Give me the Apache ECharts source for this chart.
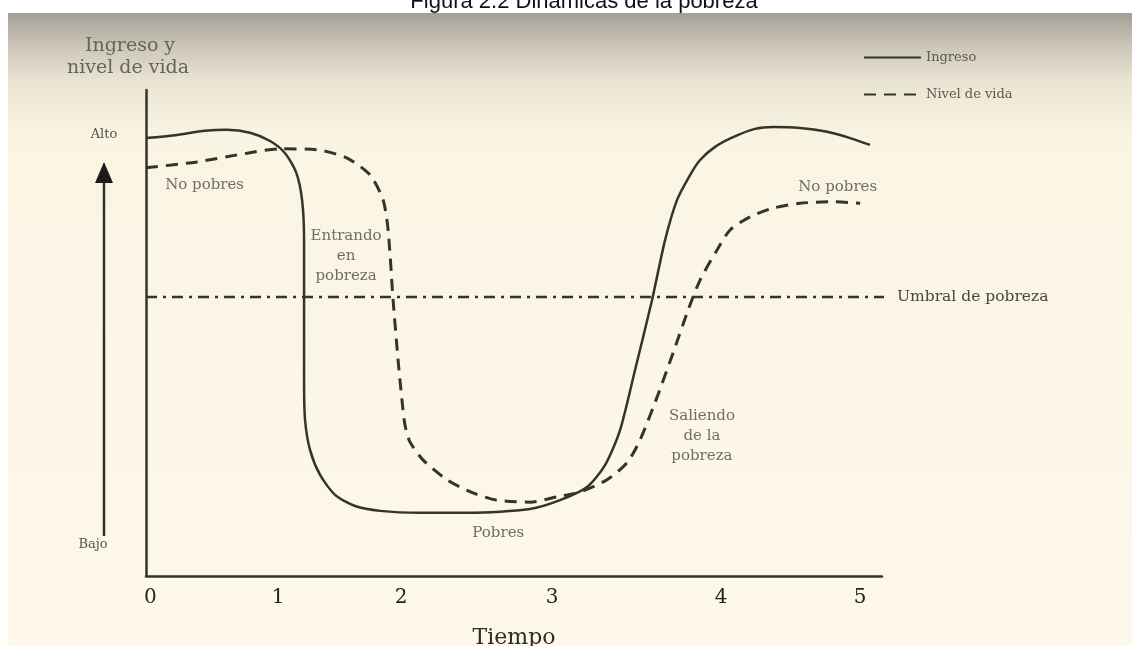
<!DOCTYPE html>
<html><head><meta charset="utf-8">
<script src="https://cdn.jsdelivr.net/npm/echarts@6/dist/echarts.min.js"></script>
<style>html,body{margin:0;padding:0;background:#fff}#c{width:1132px;height:646px}</style>
</head><body><div id="c"></div>
<script>
// Tick labels of the time axis and where they sit on the (scanned) axis
const tickLabels = ['0', '1', '2', '3', '4', '5'];
const tickPositions = [0.03, 0.924, 1.785, 2.841, 4.024, 4.997];

// Ingreso (solid)
const ingresoT = [0, 0.203, 0.413, 0.567, 0.728, 0.868, 0.973, 1.050, 1.092, 1.106, 1.106, 1.106, 1.113, 1.148, 1.218, 1.323, 1.463, 1.638, 1.917, 2.267, 2.687, 2.897, 3.086, 3.212, 3.317, 3.422, 3.541, 3.632, 3.716, 3.807, 3.877, 3.982, 4.108, 4.262, 4.388, 4.577, 4.766, 4.927, 5.066];
const ingresoV = [90.1, 90.7, 91.6, 91.8, 91.2, 89.5, 87.0, 83.1, 77.4, 69.1, 56.8, 40.3, 32.1, 25.9, 20.8, 16.7, 14.4, 13.4, 13.0, 13.0, 13.8, 15.6, 18.3, 22.8, 30.0, 42.4, 56.8, 69.1, 77.4, 82.5, 85.6, 88.3, 90.3, 92.0, 92.4, 92.2, 91.4, 90.1, 88.7];

// Nivel de vida (dashed)
const nivelT = [0, 0.357, 0.707, 0.938, 1.197, 1.407, 1.568, 1.659, 1.694, 1.729, 1.764, 1.791, 1.812, 1.847, 1.938, 2.106, 2.288, 2.456, 2.687, 2.876, 3.037, 3.226, 3.366, 3.457, 3.576, 3.688, 3.793, 3.877, 3.996, 4.087, 4.227, 4.388, 4.577, 4.808, 4.997];
const nivelV = [84.0, 85.2, 87.0, 87.9, 87.7, 86.0, 82.5, 77.4, 71.2, 56.8, 44.4, 36.2, 31.1, 27.6, 23.9, 19.8, 17.1, 15.6, 15.2, 16.3, 17.3, 19.8, 23.3, 28.0, 36.8, 45.9, 54.7, 60.9, 67.1, 71.2, 73.9, 75.7, 76.7, 77.0, 76.7];

// Umbral de pobreza
const umbralT = [0, 5.31];
const umbralV = [57.4, 57.4];

// Annotations
const annText = ['No pobres', 'Entrando\nen\npobreza', 'Pobres', 'Saliendo\nde la\npobreza', 'No pobres'];
const annT = [0.41, 1.40, 2.465, 3.89, 4.84];
const annV = [80.5, 65.8, 8.8, 28.8, 80.0];

const SERIF = 'DejaVu Serif';
const INK = '#37322c';
const TXT = '#57524a';

const zip = (a, b) => a.map((v, i) => [v, b[i]]);

const chart = echarts.init(document.getElementById('c'), null, { renderer: 'canvas' });
chart.setOption({
  animation: false,
  backgroundColor: '#ffffff',
  grid: { left: 146, right: 250, top: 90, bottom: 70, outerBoundsMode: 'none', containLabel: false },
  graphic: [
    { type: 'rect', z: -10, silent: true, shape: { x: 8, y: 13, width: 1124, height: 633 },
      style: { fill: new echarts.graphic.LinearGradient(0, 0, 0, 1, [
        { offset: 0, color: '#a39e94' }, { offset: 0.05, color: '#cbc5b8' },
        { offset: 0.11, color: '#ebe5d4' }, { offset: 0.2, color: '#faf4e3' }, { offset: 1, color: '#fdf8ea' }]) } },
    { type: 'text', style: { text: 'Figura 2.2 Dinámicas de la pobreza', x: 584, y: 2,
      align: 'center', verticalAlign: 'middle', font: '22px "Liberation Sans", Arial, sans-serif', fill: '#111' } },
    { type: 'text', style: { text: 'Ingreso y', x: 130, y: 46, align: 'center', verticalAlign: 'middle', font: '19px "DejaVu Serif"', fill: '#67625a' } },
    { type: 'text', style: { text: 'nivel de vida', x: 128, y: 68, align: 'center', verticalAlign: 'middle', font: '19px "DejaVu Serif"', fill: '#67625a' } },
    { type: 'text', style: { text: 'Alto', x: 104, y: 135, align: 'center', verticalAlign: 'middle', font: '13px "DejaVu Serif"', fill: TXT } },
    { type: 'text', style: { text: 'Bajo', x: 93, y: 545, align: 'center', verticalAlign: 'middle', font: '13px "DejaVu Serif"', fill: TXT } },
    { type: 'line', shape: { x1: 104, y1: 536, x2: 104, y2: 180 }, style: { stroke: INK, lineWidth: 2.5 } },
    { type: 'polygon', shape: { points: [[95, 183], [113, 183], [104, 162]] }, style: { fill: '#1e1a16' } }
  ],
  legend: {
    orient: 'vertical', left: 858, top: 46, itemWidth: 57, itemHeight: 14, itemGap: 24,
    data: ['Ingreso', 'Nivel de vida'],
    itemStyle: { opacity: 0 },
    textStyle: { fontFamily: SERIF, fontSize: 13, color: '#5e5951' }
  },
  xAxis: {
    type: 'value', min: 0, max: 5.15,
    axisLine: { show: true, lineStyle: { color: INK, width: 2.5 } },
    axisTick: { show: false }, splitLine: { show: false },
    axisLabel: {
      customValues: tickPositions,
      formatter: (v) => {
        let best = 0;
        tickPositions.forEach((p, i) => { if (Math.abs(p - v) < Math.abs(tickPositions[best] - v)) best = i; });
        return tickLabels[best];
      },
      fontFamily: SERIF, fontSize: 20, color: '#26221e', margin: 12
    },
    name: 'Tiempo', nameLocation: 'middle', nameGap: 51,
    nameTextStyle: { fontFamily: SERIF, fontSize: 22, color: '#2e2a25' }
  },
  yAxis: {
    type: 'value', min: 0, max: 100,
    axisLine: { show: true, lineStyle: { color: INK, width: 2.5 } },
    axisTick: { show: false }, axisLabel: { show: false }, splitLine: { show: false }
  },
  series: [
    { name: 'Umbral', type: 'line', data: zip(umbralT, umbralV), symbol: 'none', clip: false, silent: true,
      lineStyle: { color: INK, width: 2.5, type: [11, 6, 3, 6] },
      endLabel: { show: true, formatter: 'Umbral de pobreza', distance: 13, fontFamily: SERIF, fontSize: 15.5, color: '#4a453e' } },
    { name: 'Ingreso', type: 'line', data: zip(ingresoT, ingresoV), symbol: 'none', smooth: 0.25,
      lineStyle: { color: INK, width: 2.5 }, itemStyle: { color: INK } },
    { name: 'Nivel de vida', type: 'line', data: zip(nivelT, nivelV), symbol: 'none', smooth: 0.25,
      lineStyle: { color: INK, width: 3, type: [12, 8] }, itemStyle: { color: INK } },
    { name: 'Notas', type: 'scatter', symbolSize: 1, silent: true, itemStyle: { color: 'rgba(0,0,0,0)' },
      data: annT.map((t, i) => ({ value: [t, annV[i]], name: annText[i] })),
      label: { show: true, position: 'inside', formatter: (p) => p.name, fontFamily: SERIF, fontSize: 15,
        lineHeight: 20, color: '#4f4a43', align: 'center', verticalAlign: 'middle' } }
  ]
});
</script></body></html>
